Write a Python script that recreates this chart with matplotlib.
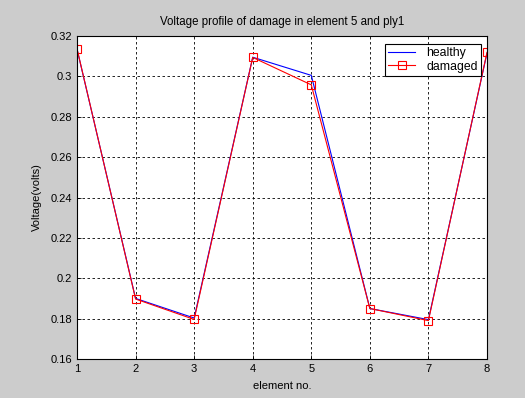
import matplotlib
matplotlib.use("Agg")
import matplotlib.pyplot as plt
from matplotlib.ticker import FuncFormatter

plt.rcParams['font.family'] = ['Liberation Sans', 'DejaVu Sans']

elements = [1, 2, 3, 4, 5, 6, 7, 8]
healthy = [0.3135, 0.1900, 0.1803, 0.3095, 0.3005, 0.1850, 0.1795, 0.3115]
damaged = [0.3137, 0.1897, 0.1796, 0.3094, 0.2958, 0.1850, 0.1790, 0.3119]
y_ticks = [0.16, 0.18, 0.2, 0.22, 0.24, 0.26, 0.28, 0.3, 0.32]

bg = '#cccccc'
fig = plt.figure(figsize=(5.25, 3.98), dpi=100, facecolor=bg)
ax = fig.add_axes([0.1467, 0.098, 0.7809, 0.8115])
ax.set_facecolor('white')

ax.plot(elements, healthy, color='blue', lw=0.8, label='healthy')
ax.plot(elements, damaged, color='red', lw=0.8, marker='s', markersize=6,
        markerfacecolor='none', markeredgecolor='red', markeredgewidth=0.8,
        label='damaged')

ax.set_xlim(1, 8)
ax.set_ylim(0.16, 0.32)
ax.set_xticks(elements)
ax.set_yticks(y_ticks)
ax.yaxis.set_major_formatter(FuncFormatter(lambda v, p: f'{v:g}'))
ax.tick_params(direction='in', length=3, labelsize=8, colors='black', width=0.6)
ax.grid(True, color='black', linestyle=(0, (3, 3)), linewidth=0.6)
for s in ax.spines.values():
    s.set_linewidth(0.8)

ax.set_title('Voltage profile of damage in element 5 and ply1', fontsize=8.3, pad=8)
ax.set_xlabel('element no.', fontsize=8, labelpad=5)
ax.set_ylabel('Voltage(volts)', fontsize=8, labelpad=6)

leg = ax.legend(loc='upper right', bbox_to_anchor=(0.986, 0.976), fontsize=8.8,
                fancybox=False, framealpha=1, edgecolor='black',
                handlelength=2.2, handletextpad=0.9, borderpad=0.3,
                labelspacing=0.1, borderaxespad=0.0)
leg.get_frame().set_linewidth(0.8)

fig.savefig('out.png', dpi=100, facecolor=bg)
